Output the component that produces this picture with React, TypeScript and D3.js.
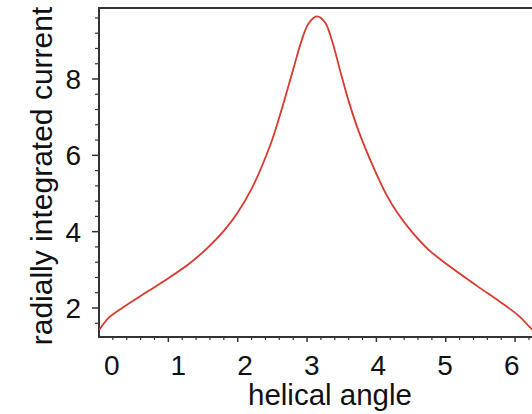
import React from "react";
import * as d3 from "d3";

const angles = [0, 0.15, 0.4, 0.7, 1.0, 1.3, 1.55, 1.8, 2.0, 2.2, 2.35, 2.5, 2.65, 2.8, 2.92, 3.02, 3.14, 3.26, 3.36, 3.48, 3.6, 3.75, 3.95, 4.15, 4.3, 4.5, 4.75, 5.05, 5.45, 5.8, 6.05, 6.18, 6.28];
const currents = [1.42, 1.76, 2.08, 2.43, 2.78, 3.16, 3.55, 4.02, 4.5, 5.12, 5.72, 6.42, 7.3, 8.25, 9.0, 9.45, 9.64, 9.48, 9.0, 8.2, 7.42, 6.6, 5.72, 4.95, 4.5, 4.02, 3.53, 3.1, 2.58, 2.14, 1.8, 1.56, 1.38];
const xTickLabels = ["0", "1", "2", "3", "4", "5", "6"];
const yTickValues = [2, 4, 6, 8];

const W = 532;
const H = 414;
const left = 99;
const top = 8;
const bottom = 337;

export default function App() {
  const x = d3.scaleLinear().domain([0, 2 * Math.PI]).range([left, left + 69.35 * 2 * Math.PI]);
  const y = d3.scaleLinear().domain([2, 8]).range([308, 79]);
  const labelX = d3.scaleLinear().domain([0, 6]).range([111.7, 511.7]);
  const data = angles.map((a, i) => [a, currents[i]] as [number, number]);
  const line = d3
    .line<[number, number]>()
    .x((d) => x(d[0]))
    .y((d) => y(d[1]))
    .curve(d3.curveCatmullRom.alpha(0.5));

  const xMinor = d3.range(0, 31).map((i) => i * 0.2 + 0.2).filter((v) => Math.abs(v - Math.round(v)) > 1e-6 && v < 6.3);
  const xMajor = [1, 2, 3, 4, 5, 6];
  const yMinor = d3.range(0, 21).map((i) => 1.6 + i * 0.4).filter((v) => v < 9.7 && !yTickValues.some((t) => Math.abs(t - v) < 1e-6));

  const axisColor = "#333";
  const font = "'Liberation Sans', Arial, Helvetica, sans-serif";

  return (
    <svg width={W} height={H} style={{ position: "absolute", left: 0, top: 0, background: "#fff" }}>
      <defs>
        <clipPath id="plotclip">
          <rect x={left} y={top} width={W - left} height={bottom - top} />
        </clipPath>
      </defs>
      <line x1={left} x2={W} y1={top} y2={top} stroke={axisColor} strokeWidth={2.2} />
      <line x1={left} x2={left} y1={top - 1} y2={bottom + 1} stroke={axisColor} strokeWidth={2} />
      <line x1={left - 1} x2={W} y1={bottom} y2={bottom} stroke={axisColor} strokeWidth={2} />
      {xMajor.map((v) => (
        <line key={"xM" + v} x1={x(v)} x2={x(v)} y1={bottom} y2={bottom + 5} stroke={axisColor} strokeWidth={1.5} />
      ))}
      {xMinor.map((v, i) => (
        <line key={"xm" + i} x1={x(v)} x2={x(v)} y1={bottom} y2={bottom + 3} stroke={axisColor} strokeWidth={1.2} />
      ))}
      {yTickValues.map((v) => (
        <line key={"yM" + v} x1={left - 7} x2={left} y1={y(v)} y2={y(v)} stroke={axisColor} strokeWidth={1.5} />
      ))}
      {yMinor.map((v, i) => (
        <line key={"ym" + i} x1={left - 4} x2={left} y1={y(v)} y2={y(v)} stroke={axisColor} strokeWidth={1.2} />
      ))}
      {xTickLabels.map((t, i) => (
        <text key={"xl" + t} x={labelX(i)} y={375} textAnchor="middle" fontFamily={font} fontSize={28} fill="#111">
          {t}
        </text>
      ))}
      {yTickValues.map((v) => (
        <text key={"yl" + v} x={81} y={y(v) + 10} textAnchor="end" fontFamily={font} fontSize={28} fill="#111">
          {v}
        </text>
      ))}
      <text x={330} y={405} textAnchor="middle" fontFamily={font} fontSize={29.5} fill="#111">
        helical angle
      </text>
      <text
        transform={`translate(52,176) rotate(-90)`}
        textAnchor="middle"
        fontFamily={font}
        fontSize={30}
        fill="#111"
      >
        radially integrated current
      </text>
      <path d={line(data) || ""} fill="none" stroke="#d8392c" strokeWidth={1.8} clipPath="url(#plotclip)" />
    </svg>
  );
}
